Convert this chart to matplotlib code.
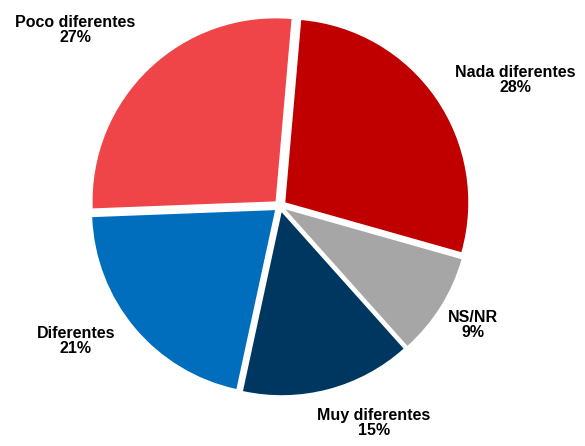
import matplotlib
matplotlib.use("Agg")
import matplotlib.pyplot as plt

labels = ["Nada diferentes", "NS/NR", "Muy diferentes", "Diferentes", "Poco diferentes"]
values = [28, 9, 15, 21, 27]
colors = ["#C00000", "#A6A6A6", "#003760", "#006EBD", "#EF4448"]
# label centres in pixel coordinates (x, y from top)
label_pos = [(515, 80), (473, 325), (374, 423), (76, 341), (75, 30)]

W, H = 585, 446
fig = plt.figure(figsize=(W / 100, H / 100), dpi=100)
ax = fig.add_axes([0, 0, 1, 1])
R = 183.0
cx, cy = 280.0, 206.0

ax.pie(values, colors=colors, startangle=85, counterclock=False,
       explode=[0.035] * len(values), radius=1.0,
       wedgeprops=dict(linewidth=0))
ax.set_xlim(-cx / R, (W - cx) / R)
ax.set_ylim(-(H - cy) / R, cy / R)
ax.set_aspect("equal")
ax.axis("off")

for lab, v, (px, py) in zip(labels, values, label_pos):
    fig.text(px / W, 1 - py / H, f"{lab}\n{v}%", ha="center", va="center",
             fontsize=11.5, fontweight="bold", family="Liberation Sans",
             linespacing=1.05, color="black")

fig.savefig("out.png", dpi=100)
